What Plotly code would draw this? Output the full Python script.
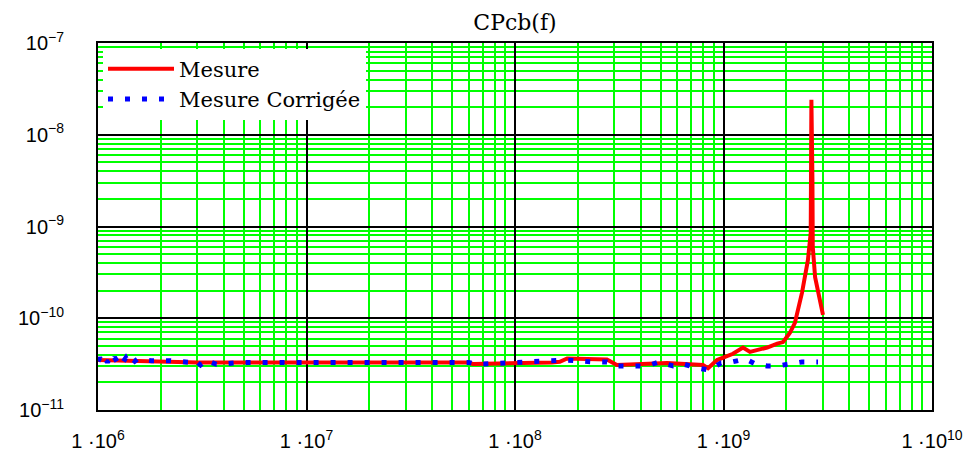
import plotly.graph_objects as go

# ---- data ----
freq_mesure = [1.0e6, 1.6e6, 3.0e6, 1.0e7, 3.0e7, 5.9e7, 6.3e7, 9.2e7, 1.5e8, 1.64e8,
               1.78e8, 2.76e8, 3.08e8, 5.35e8, 7.97e8, 8.43e8, 9.31e8, 1.11e9, 1.24e9,
               1.34e9, 1.62e9, 1.81e9, 1.93e9, 2.08e9, 2.20e9, 2.38e9, 2.54e9, 2.62e9,
               2.64e9, 2.67e9, 2.68e9, 2.75e9, 2.90e9, 3.00e9]
cp_mesure = [3.5e-11, 3.45e-11, 3.3e-11, 3.3e-11, 3.3e-11, 3.3e-11, 3.18e-11, 3.2e-11,
             3.3e-11, 3.35e-11, 3.65e-11, 3.55e-11, 3.1e-11, 3.25e-11, 3.1e-11, 2.85e-11,
             3.5e-11, 4.1e-11, 4.8e-11, 4.3e-11, 4.8e-11, 5.3e-11, 5.5e-11, 6.9e-11,
             8.9e-11, 1.9e-10, 4.3e-10, 8.5e-10, 2.4e-8, 3.2e-9, 6.0e-10, 2.8e-10,
             1.47e-10, 1.09e-10]

freq_corr = [1.00e6, 1.02e6, 1.05e6, 1.08e6, 1.11e6, 1.14e6, 1.17e6, 1.20e6, 1.24e6,
             1.28e6, 1.32e6, 1.36e6, 1.40e6, 1.45e6, 1.50e6, 1.55e6, 1.8e6, 2.0e6,
             2.2e6, 2.8e6, 2.9e6, 3.0e6, 3.1e6, 3.2e6, 3.35e6, 3.5e6, 3.7e6, 5.0e6,
             1.0e7, 2.0e7, 4.0e7, 6.0e7, 6.5e7, 8.0e7, 8.75e7, 1.2e8, 1.78e8, 2.37e8,
             2.76e8, 3.12e8, 4.3e8, 4.91e8, 5.73e8, 6.4e8, 7.39e8, 8.53e8, 9.73e8,
             1.1e9, 1.27e9, 1.42e9, 1.62e9, 1.81e9, 2.08e9, 2.38e9, 2.84e9]
cp_corr = [3.4e-11, 3.7e-11, 3.3e-11, 3.7e-11, 3.3e-11, 3.7e-11, 3.35e-11, 3.75e-11,
           3.3e-11, 3.7e-11, 3.35e-11, 3.7e-11, 3.3e-11, 3.65e-11, 3.4e-11, 3.6e-11,
           3.45e-11, 3.5e-11, 3.45e-11, 3.3e-11, 3.1e-11, 3.3e-11, 3.1e-11, 3.3e-11,
           3.1e-11, 3.3e-11, 3.15e-11, 3.3e-11, 3.3e-11, 3.3e-11, 3.3e-11, 3.3e-11,
           3.15e-11, 3.2e-11, 3.26e-11, 3.34e-11, 3.5e-11, 3.34e-11, 3.34e-11, 3.02e-11,
           3.02e-11, 3.34e-11, 3.02e-11, 3.18e-11, 2.87e-11, 2.73e-11, 3.26e-11,
           3.34e-11, 3.6e-11, 3.18e-11, 3.02e-11, 3.02e-11, 3.18e-11, 3.34e-11, 3.34e-11]

x_tickvals = [1e6, 1e7, 1e8, 1e9, 1e10]
x_ticktext = ["1 ·10<sup>6</sup>", "1 ·10<sup>7</sup>", "1 ·10<sup>8</sup>",
              "1 ·10<sup>9</sup>", "1 ·10<sup>10</sup>"]
y_tickvals = [1e-11, 1e-10, 1e-9, 1e-8, 1e-7]
y_ticktext = ["10<sup>−11</sup>", "10<sup>−10</sup>", "10<sup>−9</sup>",
              "10<sup>−8</sup>", "10<sup>−7</sup>"]

fig = go.Figure()
fig.add_trace(go.Scatter(x=freq_mesure, y=cp_mesure, mode="lines", name="Mesure",
                         legendgroup="a",
                         line=dict(color="#ff0000", width=4)))
fig.add_trace(go.Scatter(x=freq_corr, y=cp_corr, mode="lines", name="Mesure Corrigée",
                         legendgroup="b",
                         line=dict(color="#0000ff", width=5, dash="5px,12px")))

axis_common = dict(
    type="log", showline=True, mirror=True, linecolor="black", linewidth=2,
    showgrid=True, gridcolor="black", gridwidth=2, zeroline=False, automargin=False,
    ticks="", ticklabeloverflow="allow",
    tickfont=dict(family="Liberation Sans", size=20, color="black"),
    minor=dict(showgrid=True, gridcolor="#00ff00", gridwidth=2, dtick="D1",
               tickmode="linear", ticks=""),
)

fig.update_xaxes(**axis_common, range=[6, 10], tickmode="array",
                 tickvals=x_tickvals, ticktext=x_ticktext, ticklabelstandoff=12)
fig.update_yaxes(**axis_common, range=[-11, -7], tickmode="array",
                 tickvals=y_tickvals, ticktext=y_ticktext, ticklabelstandoff=28)

fig.update_layout(
    width=963, height=453,
    margin=dict(l=98, r=31, t=43, b=43),
    paper_bgcolor="white", plot_bgcolor="white",
    title=dict(text="CPcb(f)", x=0.5, xref="paper", y=1 - 22 / 453, yref="container",
               xanchor="center", yanchor="middle",
               font=dict(family="DejaVu Serif", size=22, color="black")),
    legend=dict(x=0.006, y=0.985, xanchor="left", yanchor="top", bgcolor="white",
                borderwidth=0, itemwidth=66, traceorder="grouped", tracegroupgap=0,
                font=dict(family="DejaVu Serif", size=21, color="black")),
    showlegend=True,
)

fig.write_html("out.html", config={"displayModeBar": False},
               post_script="document.body.style.margin='0';")
